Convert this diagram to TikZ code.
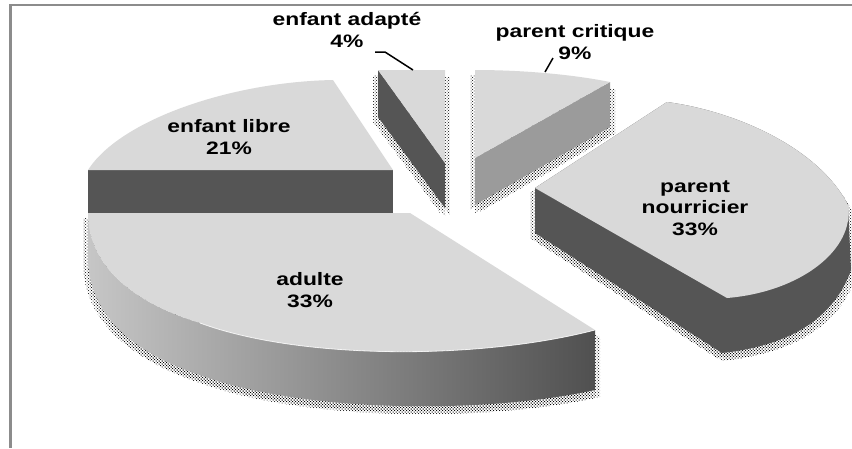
\documentclass[tikz,border=0pt]{standalone}
\usepackage{fontspec}
\newfontfamily\lblfont[FakeStretch=1.27]{Liberation Sans}
\usetikzlibrary{patterns}
\definecolor{topc}{RGB}{217,217,217}
\definecolor{darkc}{RGB}{85,85,85}
\definecolor{midc}{RGB}{155,155,155}
\definecolor{framec}{RGB}{140,140,140}
\definecolor{adl}{RGB}{198,198,198}
\definecolor{adm}{RGB}{155,155,155}
\definecolor{adr}{RGB}{80,80,80}
\begin{document}
\begin{tikzpicture}[x=1pt,y=-1pt,
  topface/.style={fill=topc},
  darkface/.style={fill=darkc},
  shadowfill/.style={pattern=crosshatch dots, pattern color=black},
  lbl/.style={font=\lblfont\bfseries\fontsize{18}{21.5}\selectfont, align=center, inner sep=0pt, text=black},
  leader/.style={draw=black, line width=1.5pt}]
\useasboundingbox (0,0) rectangle (852,448);
\fill[white] (0,0) rectangle (852,448);

% shadows
\foreach \sx/\sy in {-5/5,5/7,0/8}{
 \begin{scope}[shift={(\sx,\sy)}]
  \fill[shadowfill] (378,70) -- (445,70) -- (445,208) -- (378,117) -- cycle;
  \fill[shadowfill] (475,70) .. controls (520,70) and (570,74) .. (610,82) -- (610,127) -- (475,205) -- cycle;
  \fill[shadowfill] (535,188) -- (667,102) .. controls (740,112) and (820,150) .. (848,205) -- (851,270) .. controls (835,315) and (795,345) .. (722,353) -- (535,233) -- cycle;
  \fill[shadowfill] (88,213) -- (410,213) -- (595,330) -- (595,390) .. controls (480,415) and (300,412) .. (200,375) .. controls (140,355) and (90,320) .. (88,260) -- cycle;
 \end{scope}}

% enfant adapte
\fill[darkface] (378,70) -- (445,163) -- (445,208) -- (378,117) -- cycle;
\fill[topface] (378,70) -- (445,70) -- (445,163) -- cycle;

% parent critique
\fill[midc] (475,158) -- (610,82) -- (610,127) -- (475,205) -- cycle;
\fill[topface] (475,70) .. controls (520,70) and (570,74) .. (610,82) -- (475,158) -- cycle;

% enfant libre
\fill[darkface] (88,170) rectangle (393,213);
\fill[topface] (393,170) -- (333,80) .. controls (230,82) and (120,120) .. (88,170) -- cycle;

% parent nourricier
\fill[darkface] (535,188) -- (667,102) .. controls (740,112) and (820,150) .. (848,205) -- (851,270) .. controls (835,315) and (795,345) .. (722,353) -- (535,233) -- cycle;
\fill[topface] (535,188) -- (667,102) .. controls (740,112) and (820,150) .. (848,205) .. controls (855,250) and (800,292) .. (727,298) -- cycle;

% adulte
\shade[left color=adl, middle color=adm, right color=adr] (595,330) -- (595,390) .. controls (480,415) and (300,412) .. (200,375) .. controls (140,355) and (90,320) .. (88,260) -- (88,213) .. controls (88,270) and (140,305) .. (200,323) .. controls (300,360) and (480,360) .. (595,330) -- cycle;
\fill[topface] (88,213) -- (410,213) -- (595,330) .. controls (480,360) and (300,360) .. (200,323) .. controls (140,305) and (88,270) .. (88,213) -- cycle;
\draw[white, line width=0.8pt, opacity=0.8] (200,323) .. controls (300,360) and (480,360) .. (595,330);

% labels
\node[lbl] (ea) at (347,30) {enfant adapté\\4\%};
\node[lbl] (pc) at (575,42) {parent critique\\9\%};
\node[lbl] (el) at (229,137) {enfant libre\\21\%};
\node[lbl] (pn) at (695,208) {parent\\nourricier\\33\%};
\node[lbl] (ad) at (310,290) {adulte\\33\%};

% leader lines
\coordinate (ea1) at (375,52);
\coordinate (ea2) at (385,52);
\coordinate (ea3) at (413,70);
\draw[leader] (ea1) -- (ea2) -- (ea3);
\coordinate (pc1) at (545,72);
\coordinate (pc2) at (553,58);
\draw[leader] (pc1) -- (pc2);

% frame
\draw[framec, line width=2pt] (9,5) -- (852,5);
\draw[framec, line width=3pt] (10.5,4) -- (10.5,448);
\end{tikzpicture}
\end{document}
